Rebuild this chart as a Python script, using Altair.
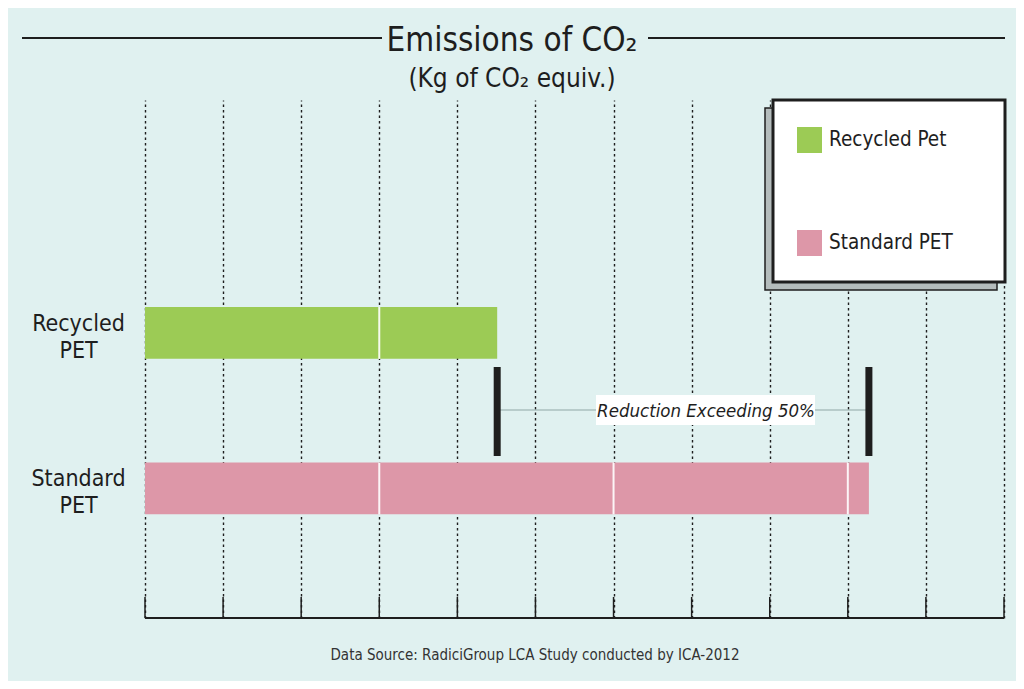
import altair as alt
import pandas as pd

# ---- data ----
categories = ["Recycled PET", "Standard PET"]
emissions = [4.51, 9.27]            # in grid units (no tick labels in source)
bar_colors = ["#9ccb55", "#dd97a8"]
legend_labels = ["Recycled Pet", "Standard PET"]
x_ticks = list(range(12))
segment_marks = [3, 6, 9]

title_text = "Emissions of CO\u2082"
subtitle_text = "(Kg of CO\u2082 equiv.)"
annotation_text = "Reduction Exceeding 50%"
source_text = "Data Source: RadiciGroup LCA Study conducted by ICA-2012"

FONT = "'Liberation Sans Narrow', 'DejaVu Sans Condensed', 'Roboto Condensed', sans-serif"
BG = "#e0f1f0"
INK = "#1e1e1e"

W, H = 859, 518

bars_df = pd.DataFrame({"cat": categories, "val": emissions, "color": bar_colors})
seg_df = pd.DataFrame(
    [{"cat": c, "seg": s} for c, v in zip(categories, emissions) for s in segment_marks if s < v]
)
ticks_df = pd.DataFrame({"t": x_ticks})
one = pd.DataFrame({"a": [0]})

xscale = alt.Scale(domain=[0, 11], nice=False, zero=False)
yscale = alt.Scale(domain=categories, paddingInner=0.668, paddingOuter=1.0, align=0.666)

x_enc = alt.X(
    "val:Q", scale=xscale,
    axis=alt.Axis(values=x_ticks, grid=True, gridDash=[2.5, 3], gridColor=INK, gridWidth=1.4,
                  labels=False, ticks=False, domain=False, title=None),
)
y_enc = alt.Y(
    "cat:N", scale=yscale, sort=categories,
    axis=alt.Axis(title=None, domain=False, ticks=False, grid=False,
                  labelExpr="split(datum.value, ' ')", labelAlign="center",
                  labelPadding=67, labelFont=FONT, labelFontSize=23, labelOffset=-9,
                  labelColor=INK, labelLineHeight=27, labelBaseline="middle"),
)

bars = alt.Chart(bars_df).mark_bar().encode(
    x=x_enc,
    x2=alt.datum(0),
    y=y_enc,
    color=alt.Color("color:N", scale=None),
)

segs = alt.Chart(seg_df).mark_tick(color="white", thickness=2, size=52, opacity=0.9).encode(
    x=alt.X("seg:Q", scale=xscale),
    y=alt.Y("cat:N", scale=yscale, sort=categories),
)

# solid axis ticks pointing up and baseline
axis_ticks = alt.Chart(ticks_df).mark_rule(color=INK, strokeWidth=1.5).encode(
    x=alt.X("t:Q", scale=xscale), y=alt.value(H - 21), y2=alt.value(H)
)
baseline = alt.Chart(one).mark_rule(color=INK, strokeWidth=2).encode(
    x=alt.value(0), x2=alt.value(W), y=alt.value(H)
)

# annotation
ann_df = pd.DataFrame({"lo": [emissions[0]], "hi": [emissions[1]]})
ann_line = alt.Chart(ann_df).mark_rule(color="#8fa8a6", strokeWidth=1.2).encode(
    x=alt.X("lo:Q", scale=xscale), x2="hi:Q", y=alt.value(310)
)
ann_bars = alt.Chart(bars_df).mark_rule(color=INK, strokeWidth=7).encode(
    x=alt.X("val:Q", scale=xscale), y=alt.value(267), y2=alt.value(356)
)
ann_box = alt.Chart(one).mark_rect(color="white").encode(
    x=alt.value(451), x2=alt.value(670), y=alt.value(295), y2=alt.value(325)
)
ann_text = alt.Chart(one).mark_text(
    text=annotation_text, font=FONT, fontSize=18.5, fontStyle="italic", color=INK,
    align="center", baseline="middle"
).encode(x=alt.value(561), y=alt.value(311))

# legend
leg_shadow = alt.Chart(one).mark_rect(fill="#b4bcbc", stroke=INK, strokeWidth=1.5).encode(
    x=alt.value(620), x2=alt.value(852), y=alt.value(8), y2=alt.value(190)
)
leg_box = alt.Chart(one).mark_rect(fill="white", stroke=INK, strokeWidth=3).encode(
    x=alt.value(628), x2=alt.value(860), y=alt.value(0), y2=alt.value(182)
)
leg_layers = []
for i, (lab, col) in enumerate(zip(legend_labels, bar_colors)):
    y0 = 27 + i * 103
    leg_layers.append(
        alt.Chart(one).mark_rect(color=col).encode(
            x=alt.value(652), x2=alt.value(677), y=alt.value(y0), y2=alt.value(y0 + 26)
        )
    )
    leg_layers.append(
        alt.Chart(one).mark_text(text=lab, font=FONT, fontSize=20.5, color=INK,
                                 align="left", baseline="middle").encode(
            x=alt.value(684), y=alt.value(y0 + 13)
        )
    )

# titles
title_lines = [
    alt.Chart(one).mark_rule(color=INK, strokeWidth=2).encode(
        x=alt.value(-123), x2=alt.value(237), y=alt.value(-62)),
    alt.Chart(one).mark_rule(color=INK, strokeWidth=2).encode(
        x=alt.value(503), x2=alt.value(860), y=alt.value(-62)),
]
title = alt.Chart(one).mark_text(text=title_text, font=FONT, fontSize=33, color=INK,
                                 fontWeight=500, align="center", baseline="alphabetic").encode(
    x=alt.value(367), y=alt.value(-49))
subtitle = alt.Chart(one).mark_text(text=subtitle_text, font=FONT, fontSize=26, color=INK,
                                    align="center", baseline="alphabetic").encode(
    x=alt.value(367), y=alt.value(-13))
source = alt.Chart(one).mark_text(text=source_text, font=FONT, fontSize=15, color="#333333",
                                  align="center", baseline="middle").encode(
    x=alt.value(390), y=alt.value(555))

chart = alt.layer(
    bars, segs, axis_ticks, baseline, ann_line, ann_bars, ann_box, ann_text,
    leg_shadow, leg_box, *leg_layers, *title_lines, title, subtitle, source
).properties(
    width=W, height=H,
    autosize=alt.AutoSizeParams(type="none"),
    padding={"left": 137, "top": 92, "right": 12, "bottom": 63},
    background=BG,
).configure_view(stroke=None)

chart.save("out.html", embed_options={"renderer": "svg", "actions": False})
